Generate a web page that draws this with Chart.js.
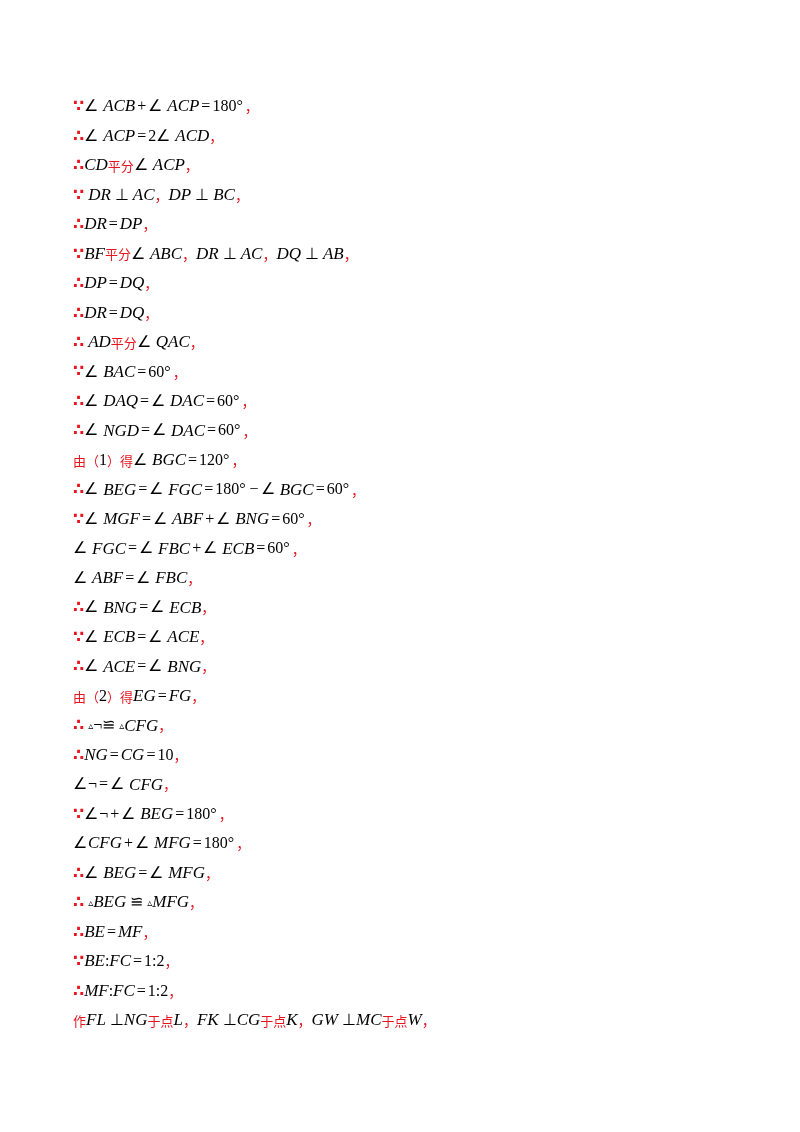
<!DOCTYPE html>
<html><head><meta charset="utf-8">
<script src="https://cdn.jsdelivr.net/npm/chart.js@4/dist/chart.umd.min.js"></script>
<style>html,body{margin:0;background:#fff}#w{width:800px;height:1132px}</style>
</head><body><div id="w"><canvas id="c"></canvas></div>
<script>
const lines = [
"∵∠ ACB+∠ ACP=180°，",
"∴∠ ACP=2∠ ACD，",
"∴CD平分∠ ACP，",
"∵ DR ⊥ AC， DP ⊥ BC，",
"∴DR=DP，",
"∵BF平分∠ ABC， DR ⊥ AC， DQ ⊥ AB，",
"∴DP=DQ，",
"∴DR=DQ，",
"∴ AD平分∠ QAC，",
"∵∠ BAC=60°，",
"∴∠ DAQ=∠ DAC=60°，",
"∴∠ NGD=∠ DAC=60°，",
"由（1）得∠ BGC=120°，",
"∴∠ BEG=∠ FGC=180°−∠ BGC=60°，",
"∵∠ MGF=∠ ABF+∠ BNG=60°，",
"∠ FGC=∠ FBC+∠ ECB=60°，",
"∠ ABF=∠ FBC，",
"∴∠ BNG=∠ ECB，",
"∵∠ ECB=∠ ACE，",
"∴∠ ACE=∠ BNG，",
"由（2）得EG=FG，",
"∴ ▵¬≌ ▵CFG，",
"∴NG=CG=10，",
"∠¬=∠ CFG，",
"∵∠¬+∠ BEG=180°，",
"∠CFG+∠ MFG=180°，",
"∴∠ BEG=∠ MFG，",
"∴ ▵BEG ≌ ▵MFG，",
"∴BE=MF，",
"∵BE:FC=1:2，",
"∴MF:FC=1:2，",
"作FL ⊥NG于点L， FK ⊥CG于点K， GW ⊥MC于点W，"
];
const firstY = 107, stepY = 29.48, leftX = 73;
const textPlugin = {id:'txt', afterDraw(chart){
  const ctx = chart.ctx; ctx.save(); ctx.textBaseline='middle';
  lines.forEach((ln,i)=>{
    let x = leftX; const y = chart.scales.y.getPixelForValue(i);
    for (const ch of ln){
      let font, col='#000', pre=0, post=0;
      if (/[A-Z]/.test(ch)) font='italic 17px "Liberation Serif"';
      else if (/[\u4e00-\u9fff（）]/.test(ch)) {font='13px "Noto Sans CJK SC"'; col='#e8141e';}
      else if (ch==='，') {font='14px "Noto Sans CJK SC"'; col='#e8141e';}
      else if (ch==='∵'||ch==='∴') {font='bold 16px "DejaVu Sans"'; col='#e8141e';}
      else if (ch==='▵') font='10px "DejaVu Sans"';
      else font='16px "Liberation Serif"';
      if ('=+−'.includes(ch)) {pre=2; post=2;}
      x+=pre;
      ctx.font=font; ctx.fillStyle=col;
      ctx.fillText(ch,x,y);
      let w=ctx.measureText(ch).width;
      if (ch==='，') w=10;
      if (ch==='∠') w=15;
      if (ch==='°') w+=2;
      x+=w+post;
    }
  });
  ctx.restore();
}};
new Chart(document.getElementById('c'),{
  type:'scatter',
  data:{datasets:[{data:[]}]},
  options:{responsive:true,maintainAspectRatio:false,animation:false,
    layout:{padding:0},
    plugins:{legend:{display:false},tooltip:{enabled:false}},
    scales:{
      x:{display:false,min:0,max:1},
      y:{display:false,reverse:true,
         min:-firstY/stepY, max:(1132-firstY)/stepY}
    }},
  plugins:[textPlugin]
});
</script></body></html>
